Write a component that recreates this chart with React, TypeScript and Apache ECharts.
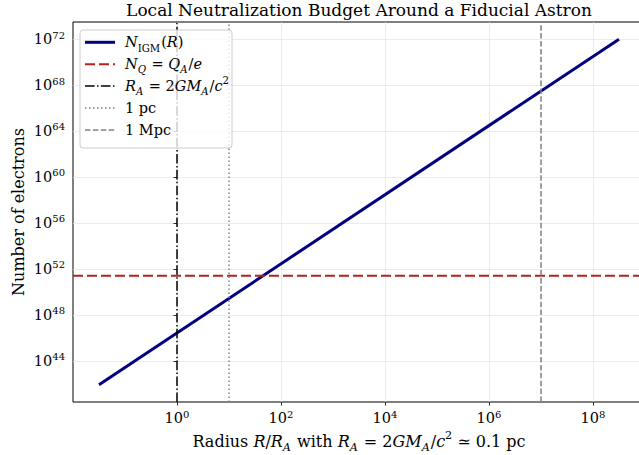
import React, { useEffect, useRef } from "react";
import * as echarts from "echarts";

// log10 of R/R_A at the ends of the N_IGM curve, and log10 of the electron count there
const logRadius = [-1.5, 8.5];
const logElectronsIGM = [41.93, 71.98];
// log10 of the electron count that neutralises the astron's charge, N_Q = Q_A / e
const logElectronsCharge = 51.4;
// reference radii, log10(R/R_A)
const logRadiusAstron = 0;
const logRadiusParsec = 1;
const logRadiusMegaparsec = 7;
// axis limits and tick exponents (log10)
const xLimits = [-2, 9];
const yLimits = [40.43, 73.48];
const xTickExponents = [0, 2, 4, 6, 8];
const yTickExponents = [44, 48, 52, 56, 60, 64, 68, 72];

const SERIF = "DejaVu Serif";
const NAVY = "#000080";
const FIREBRICK = "#b22222";
const GRAY = "#808080";

const tickRich = {
  b: { fontFamily: SERIF, fontSize: 14.5, lineHeight: 18, color: "#000" },
  s: { fontFamily: SERIF, fontSize: 10, lineHeight: 12.6, verticalAlign: "top", color: "#000" },
};

const mathRich = (size: number) => {
  const small = size * 0.7;
  const base = { fontFamily: SERIF, color: "#000", fill: "#000" };
  return {
    n: { ...base, fontSize: size, lineHeight: size + 7 },
    i: { ...base, fontStyle: "italic", fontSize: size, lineHeight: size + 7 },
    sub: { ...base, fontSize: small, lineHeight: small + 3, verticalAlign: "bottom", padding: [0, 1, 0, 0] },
    isub: { ...base, fontStyle: "italic", fontSize: small, lineHeight: small + 3, verticalAlign: "bottom", padding: [0, 1, 0, 0] },
    sup: { ...base, fontSize: small, lineHeight: small + 3, verticalAlign: "top" },
  };
};

const powerLabel = (v: number) => `{b|10}{s|${v}}`;

const LINE_IGM = { color: NAVY, width: 3, type: "solid" as any };
const LINE_CHARGE = { color: FIREBRICK, width: 2, type: [10, 4] as any };
const LINE_ASTRON = { color: "#000", width: 1.5, type: [9.6, 2.4, 1.5, 2.4] as any };
const LINE_PC = { color: GRAY, width: 1.5, type: [1.5, 2.5] as any };
const LINE_MPC = { color: GRAY, width: 1.5, type: [5.5, 2.4] as any };

const legendEntries = [
  { text: "{i|N}{sub|IGM}{n|(}{i|R}{n|)}", style: LINE_IGM },
  { text: "{i|N}{isub|Q}{n| = }{i|Q}{isub|A}{n|/}{i|e}", style: LINE_CHARGE },
  { text: "{i|R}{isub|A}{n| = 2}{i|GM}{isub|A}{n|/}{i|c}{sup|2}", style: LINE_ASTRON },
  { text: "{n|1 pc}", style: LINE_PC },
  { text: "{n|1 Mpc}", style: LINE_MPC },
];

function buildLegend() {
  const left = 80;
  const top = 30;
  const children: any[] = [
    {
      type: "rect",
      z: 100,
      shape: { x: left, y: top, width: 152, height: 118, r: 3 },
      style: { fill: "rgba(255,255,255,0.8)", stroke: "#cccccc", lineWidth: 1 },
    },
  ];
  legendEntries.forEach((e, k) => {
    const y = 42.3 + k * 21.9;
    const dash = Array.isArray(e.style.type) ? e.style.type : null;
    children.push({
      type: "line",
      z: 101,
      shape: { x1: 85, y1: y, x2: 115, y2: y },
      style: { stroke: e.style.color, lineWidth: e.style.width, lineDash: dash },
    });
    children.push({
      type: "text",
      z: 101,
      x: 125,
      y: y,
      style: { text: e.text, rich: mathRich(14.5), verticalAlign: "middle", align: "left" },
    });
  });
  return { type: "group", z: 100, children };
}

function verticalLine(name: string, x: number, style: any) {
  return {
    name,
    type: "line",
    data: [
      [x, yLimits[0]],
      [x, yLimits[1]],
    ],
    showSymbol: false,
    symbol: "none",
    lineStyle: style,
    silent: true,
    z: 3,
  };
}

export default function App() {
  const ref = useRef<HTMLDivElement>(null);

  useEffect(() => {
    if (!ref.current) return;
    const chart = echarts.init(ref.current, null, { renderer: "svg" });
    const option: any = {
      animation: false,
      backgroundColor: "#fff",
      grid: {
        left: 73,
        top: 22,
        right: -6,
        bottom: 53,
        containLabel: false,
        outerBoundsMode: "none",
        show: true,
        borderColor: "#000",
        borderWidth: 1,
        backgroundColor: "transparent",
      },
      xAxis: {
        type: "value",
        min: xLimits[0],
        max: xLimits[1],
        axisLine: { show: false },
        axisTick: {
          show: true,
          customValues: xTickExponents,
          length: 3.5,
          lineStyle: { color: "#000", width: 0.8 },
        },
        axisLabel: {
          customValues: xTickExponents,
          formatter: powerLabel,
          rich: tickRich,
          margin: 7,
        },
        splitLine: { show: true, lineStyle: { color: "#e6e6e6", width: 0.8 } },
        name: "{n|Radius }{i|R}{n|/}{i|R}{isub|A}{n| with }{i|R}{isub|A}{n| = 2}{i|GM}{isub|A}{n|/}{i|c}{sup|2}{n| ≃ 0.1 pc}",
        nameLocation: "middle",
        nameGap: 28,
        nameMoveOverlap: false,
        nameTextStyle: { rich: mathRich(16) },
      },
      yAxis: {
        type: "value",
        min: yLimits[0],
        max: yLimits[1],
        axisLine: { show: false },
        axisTick: {
          show: true,
          customValues: yTickExponents,
          length: 3.5,
          lineStyle: { color: "#000", width: 0.8 },
        },
        axisLabel: {
          customValues: yTickExponents,
          formatter: powerLabel,
          rich: tickRich,
          margin: 8,
        },
        splitLine: { show: true, lineStyle: { color: "#e6e6e6", width: 0.8 } },
        name: "Number of electrons",
        nameLocation: "middle",
        nameGap: 45,
        nameRotate: 90,
        nameMoveOverlap: false,
        nameTextStyle: { fontFamily: SERIF, fontSize: 16, color: "#000", lineHeight: 20 },
      },
      series: [
        {
          name: "N_IGM",
          type: "line",
          data: logRadius.map((x, k) => [x, logElectronsIGM[k]]),
          showSymbol: false,
          symbol: "none",
          lineStyle: LINE_IGM,
          silent: true,
          z: 2,
        },
        {
          name: "N_Q",
          type: "line",
          data: [
            [xLimits[0], logElectronsCharge],
            [xLimits[1], logElectronsCharge],
          ],
          showSymbol: false,
          symbol: "none",
          lineStyle: LINE_CHARGE,
          silent: true,
          z: 3,
        },
        verticalLine("R_A", logRadiusAstron, LINE_ASTRON),
        verticalLine("1 pc", logRadiusParsec, LINE_PC),
        verticalLine("1 Mpc", logRadiusMegaparsec, LINE_MPC),
      ],
      graphic: [
        {
          type: "text",
          x: 359,
          y: 9.5,
          z: 100,
          style: {
            text: "Local Neutralization Budget Around a Fiducial Astron",
            fontFamily: SERIF,
            fontSize: 17,
            fill: "#000",
            align: "center",
            verticalAlign: "middle",
          },
        },
        buildLegend(),
      ],
    };
    chart.setOption(option);
    return () => chart.dispose();
  }, []);

  return (
    <div
      ref={ref}
      style={{ position: "fixed", left: 0, top: 0, width: 639, height: 455, background: "#fff" }}
    />
  );
}
